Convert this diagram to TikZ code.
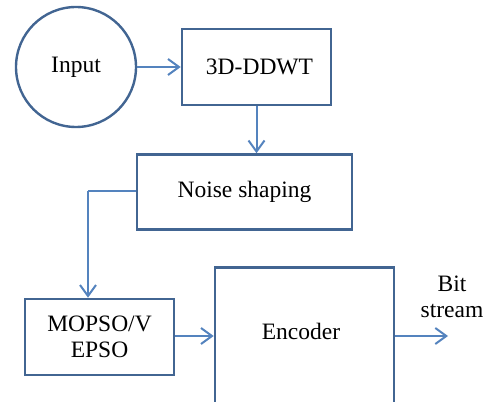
\documentclass[tikz,border=0pt]{standalone}
\usepackage{fontspec}
\setmainfont{Liberation Serif}
\definecolor{boxblue}{RGB}{66,101,146}
\definecolor{arrowblue}{RGB}{84,131,190}
\usetikzlibrary{arrows.meta}
\usetikzlibrary{positioning}

\begin{document}
\begin{tikzpicture}[x=1pt,y=-1pt]
  \useasboundingbox (0,0) rectangle (489,401);
  \clip (0,0) rectangle (489,401);

	 \tikzstyle{txt}=[font=\fontsize{23.5}{26.5}\selectfont, inner sep=0pt, align=center]
	 \tikzstyle{startnode}=[txt, circle, draw=boxblue, line width=2.4pt, minimum size=120pt]
	 \tikzstyle{block}=[txt, rectangle, draw=boxblue, line width=2.6pt]
	 \tikzstyle{edge}=[draw, line width=2pt, arrowblue, -{Straight Barb[length=11pt,width=16pt]}]
	 \tikzstyle{wire}=[draw, line width=2pt, arrowblue]
	 \node[startnode] (input) at (76,67) {Input};
	 \node[block, minimum width=149pt, minimum height=76pt] (ddwt) at (256.5,67) {\hspace*{6pt}3D-DDWT};
	 \node[block, minimum width=215pt, minimum height=75pt] (noise) at (244.5,192) {Noise shaping};
	 \node[block, minimum width=149pt, minimum height=76pt] (mopso) at (99.5,337) {MOPSO/V\\EPSO};
	 \node[block, minimum width=179pt, minimum height=160pt, anchor=north] (encoder) at (304.5,266) {};
	 \node[txt] (enclabel) at (301,331) {Encoder};
	 \node[txt] (bitstream) at (452,297) {Bit\\stream};
	 \coordinate (bend) at (88,191);
	 \coordinate (out) at (448,336);
	 \draw[edge] (input) -- (ddwt);
	 \draw[edge] (ddwt.south) -- (ddwt.south |- noise.north);
	 \draw[wire] (noise.west |- bend) -- (bend);
	 \draw[edge] (bend) -- (bend |- mopso.north);
	 \draw[edge] (mopso.east |- out) -- (encoder.west |- out);
	 \draw[edge] (encoder.east |- out) -- (out);

\end{tikzpicture}
\end{document}
